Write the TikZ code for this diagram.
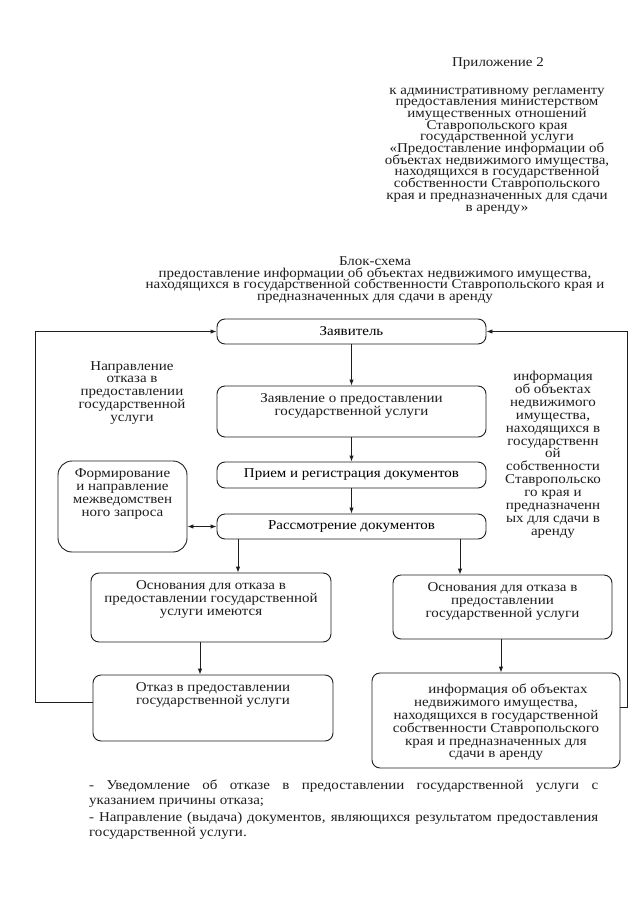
\documentclass[tikz,border=0pt]{standalone}
\usepackage{fontspec}
\setmainfont{Liberation Serif}[FakeStretch=1.11]
\usetikzlibrary{arrows.meta,positioning}
\lineskiplimit=-40pt
\normallineskiplimit=-40pt
\definecolor{ink}{RGB}{30, 30, 30}
\newcommand{\boxfont}{\fontsize{13.5}{12.9}\selectfont}
\newcommand{\headfont}{\fontsize{13.5}{11.7}\selectfont}
\newcommand{\notefont}{\fontsize{13.5}{14.8}\selectfont\hyphenpenalty=10000}
\tikzset{
  roundbox/.style={draw=ink, line width=0.9pt, rounded corners=8pt, inner sep=0pt, font=\boxfont, align=center},
  note/.style={inner sep=0pt, font=\boxfont, align=center, text=ink},
  link/.style={draw=ink, line width=0.9pt, -{Latex[length=6pt,width=4.5pt]}},
}

\begin{document}
\begin{tikzpicture}[x=1pt, y=-1pt]
            \useasboundingbox (0,0) rectangle (639,905);
            \fill[white] (0,0) rectangle (639,905);
            % header
            \node[note, font=\headfont, anchor=north] (prilozh) at (498, 57.5) {Приложение 2};
            \node[note, font=\headfont, anchor=north] (reglament) at (497, 87.5)
                 {к административному регламенту\\ предоставления министерством\\ имущественных отношений\\
                  Ставропольского края\\ государственной услуги\\ «Предоставление информации об\\
                  объектах недвижимого имущества,\\ находящихся в государственной\\ собственности Ставропольского\\
                  края и предназначенных для сдачи\\ в аренду»};
            \node[note, font=\headfont, anchor=north] (title) at (375, 256.5)
                 {Блок-схема\\ предоставление информации об объектах недвижимого имущества,\\
                  находящихся в государственной собственности Ставропольского края и\\
                  предназначенных для сдачи в аренду};
            % boxes
            \node[roundbox, minimum width=269pt, minimum height=25pt] (zayav)  at (351.5, 331.5) {Заявитель};
            \node[roundbox, minimum width=269pt, minimum height=51pt] (zayavl) at (351.5, 411.5) {};
            \node[note, below=8pt of zayavl.north] (zayavl-t) {Заявление о предоставлении\\ государственной услуги};
            \node[roundbox, minimum width=269pt, minimum height=26pt] (priem)  at (351.5, 475.0) {Прием и регистрация документов};
            \node[roundbox, minimum width=269pt, minimum height=25pt] (rassm)  at (351.5, 526.5) {Рассмотрение документов};
            \node[roundbox, rounded corners=14pt, minimum width=129pt, minimum height=91pt] (formir) at (122.5, 506.5) {};
            \node[note, below=8pt of formir.north] (formir-t) {Формирование\\ и направление\\ межведомствен\\ ного запроса};
            \node[roundbox, minimum width=240pt, minimum height=69pt] (osnL) at (211.0, 607.5) {};
            \node[note, below=8pt of osnL.north] (osnL-t) {Основания для отказа в\\ предоставлении государственной\\ услуги имеются};
            \node[roundbox, minimum width=219pt, minimum height=64pt] (osnR) at (502.5, 607.0) {};
            \node[note, below=8pt of osnR.north] (osnR-t) {Основания для отказа в\\ предоставлении\\ государственной услуги};
            \node[roundbox, minimum width=240pt, minimum height=66pt] (otkaz) at (213.0, 708.0) {};
            \node[note, below=8pt of otkaz.north] (otkaz-t) {Отказ в предоставлении\\ государственной услуги};
            \node[roundbox, minimum width=248pt, minimum height=95pt] (info) at (496.0, 720.5) {};
            \node[note, below=11pt of info.north] (info-t)
                 {\hspace*{24pt}информация об объектах\\ недвижимого имущества,\\ находящихся в государственной\\
                  собственности Ставропольского\\ края и предназначенных для\\ сдачи в аренду};
            % side texts
            \node[note, anchor=north] (napr) at (132, 361)
                 {Направление\\ отказа в\\ предоставлении\\ государственной\\ услуги};
            \node[note, anchor=north] (inform) at (553, 371)
                 {информация\\ об объектах\\ недвижимого\\ имущества,\\ находящихся в\\ государственн\\ ой\\
                  собственности\\ Ставропольско\\ го края и\\ предназначенн\\ ых для сдачи в\\ аренду};
            % arrows
            \draw[link] (zayav) -- (zayavl);
            \draw[link] (zayavl) -- (priem);
            \draw[link] (priem) -- (rassm);
            \draw[link, {Latex[length=6pt,width=4.5pt]}-{Latex[length=6pt,width=4.5pt]}] (rassm.west -| formir.east) -- (rassm.west);
            \draw[link] ([xshift=-113.5pt]rassm.south) -- ([xshift=-113.5pt]rassm.south |- osnL.north);
            \draw[link] ([xshift=108.5pt]rassm.south) -- ([xshift=108.5pt]rassm.south |- osnR.north);
            \draw[link] ([xshift=-11pt]osnL.south) -- ([xshift=-11pt]osnL.south |- otkaz.north);
            \draw[link] ([xshift=-1.5pt]osnR.south) -- ([xshift=-1.5pt]osnR.south |- info.north);
            \draw[link] ([yshift=6pt]otkaz.west) -- ++(-57,0) |- (zayav.west);
            \draw[link] ([yshift=13.5pt]info.east) -- ++(7,0) |- (zayav.east);
            % footnote
            \node[inner sep=0pt, font=\notefont, text width=509pt, align=justify, anchor=north west, text=ink] (itog) at (89, 779.5)
                 {- Уведомление об отказе в предоставлении государственной услуги с\linebreak указанием причины отказа;\\[3pt]
                  - Направление (выдача) документов, являющихся результатом предоставления\linebreak государственной услуги.};
        \end{tikzpicture}
\end{document}
